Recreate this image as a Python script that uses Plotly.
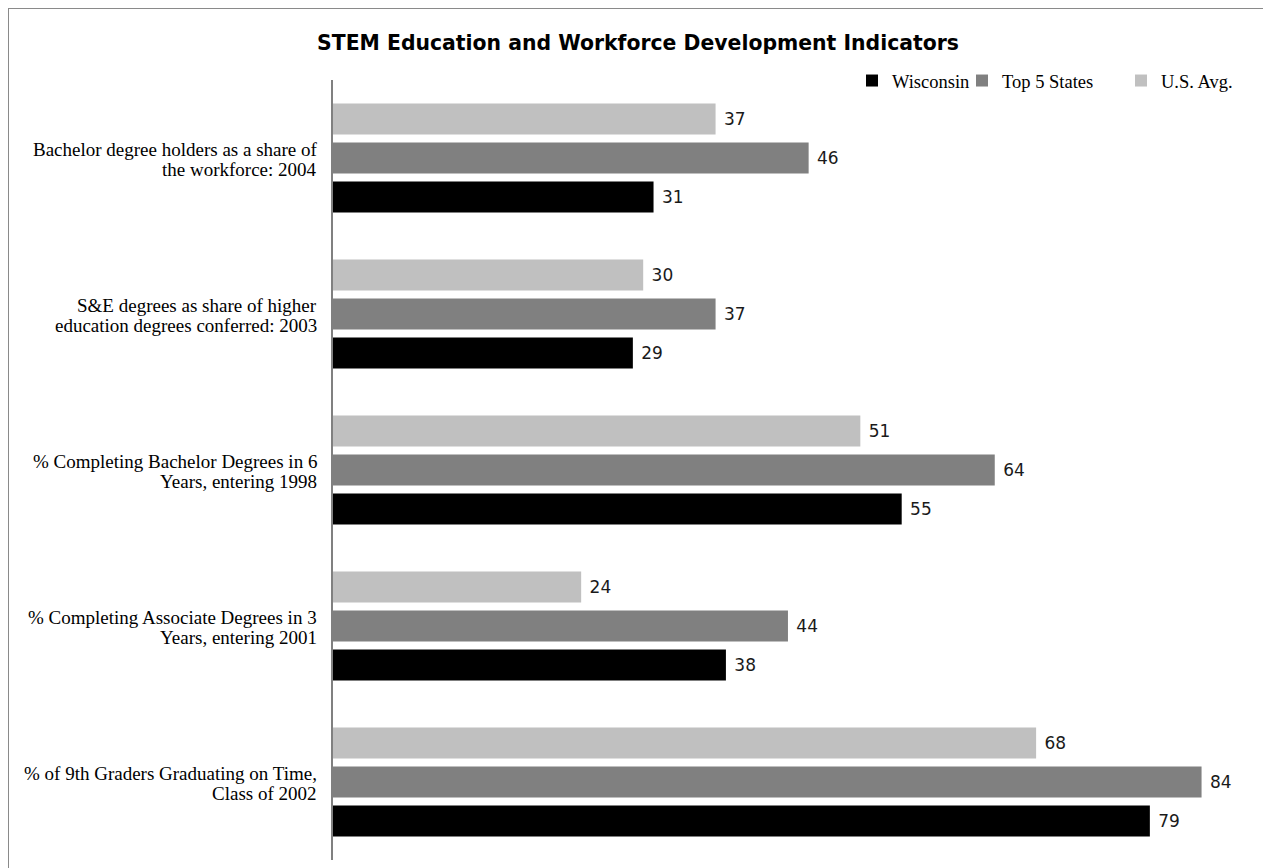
import plotly.graph_objects as go

label_lines = [
    ["Bachelor degree holders as a share of", "the workforce: 2004"],
    ["S&E degrees as share of higher", "education degrees conferred: 2003"],
    ["% Completing Bachelor Degrees in 6", "Years, entering 1998"],
    ["% Completing Associate Degrees in 3", "Years, entering 2001"],
    ["% of 9th Graders Graduating on Time,", "Class of 2002"],
]
categories = [" ".join(l) for l in label_lines]
series_names = ["Wisconsin", "Top 5 States", "U.S. Avg."]
wisconsin = [31, 29, 55, 38, 79]
top5 = [46, 37, 64, 44, 84]
us_avg = [37, 30, 51, 24, 68]
colors = ["#000000", "#808080", "#c0c0c0"]

# the page body adds an 8px margin; figure coordinates below are relative to it
W, H = 1263, 860
L, R, T, B = 325, 29, 72, 8
pw = W - L - R
ph = H - T - B
px_per_unit = 10.34

legend_names = ["legend", "legend2", "legend3"]
legend_text_x = [884, 994, 1153]  # figure px where legend text starts

fig = go.Figure()
for name, vals, col, lg in zip(series_names, [wisconsin, top5, us_avg], colors, legend_names):
    fig.add_trace(go.Bar(
        y=categories, x=vals, name=name, orientation="h", legend=lg,
        marker=dict(color=col, line=dict(width=0)),
        text=["\u00a0" + str(v) for v in vals], textposition="outside",
        textfont=dict(family="DejaVu Sans", size=17, color="#1a1a1a"),
        cliponaxis=False,
    ))

# category labels, two tightly spaced lines each
for cat, lines in zip(categories, label_lines):
    for txt, ys in zip(lines, [9, -11]):
        fig.add_annotation(
            x=0, xref="paper", y=cat, yref="y", text=txt, showarrow=False,
            xanchor="right", yanchor="middle", xshift=-14, yshift=ys,
            font=dict(family="Liberation Serif", size=19, color="#000000"),
        )

# outer frame
fig.add_shape(type="rect", xref="paper", yref="paper",
              x0=(0 - L) / pw, x1=(W + 20 - L) / pw,
              y0=(H - B - 0) / ph, y1=(H - B - (H + 20)) / ph,
              line=dict(color="#8a8a8a", width=2), fillcolor="rgba(0,0,0,0)", layer="below")

legend_font = dict(family="Liberation Serif", size=18.5, color="#000000")
leg_common = dict(orientation="h", xanchor="left", yanchor="middle",
                  y=(H - B - 73) / ph, font=legend_font, itemwidth=30,
                  bgcolor="rgba(0,0,0,0)", borderwidth=0)
legs = {}
for lg, tx in zip(legend_names, legend_text_x):
    legs[lg] = dict(leg_common, x=(tx - 40 - L) / pw)

fig.update_layout(
    width=W, height=H,
    margin=dict(l=L, r=R, t=T, b=B, pad=0),
    paper_bgcolor="white", plot_bgcolor="white",
    barmode="group", bargap=0.25, bargroupgap=0.205,
    title=dict(text="<b>STEM Education and Workforce Development Indicators</b>",
               x=630 / W, xref="container", y=1 - 35 / H, yref="container",
               xanchor="center", yanchor="middle",
               font=dict(family="DejaVu Sans", size=20.4, color="#000000")),
    xaxis=dict(range=[0, pw / px_per_unit], visible=False, showgrid=False, zeroline=False),
    yaxis=dict(categoryorder="array", categoryarray=categories[::-1],
               showline=True, linecolor="#808080", linewidth=1.5,
               ticks="", showticklabels=False, showgrid=False, zeroline=False),
    showlegend=True,
    **legs,
)

fig.write_html("out.html")
